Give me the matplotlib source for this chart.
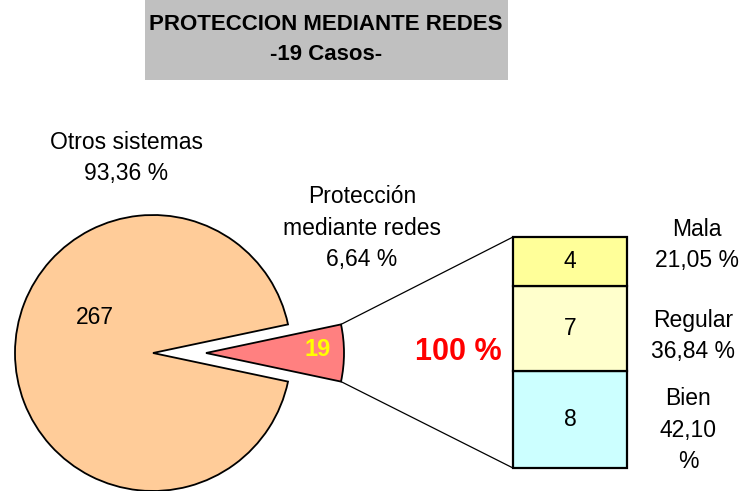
import matplotlib
matplotlib.use("Agg")
import matplotlib.pyplot as plt
import numpy as np
from matplotlib.patches import Rectangle

plt.rcParams['font.family'] = ['Liberation Sans', 'DejaVu Sans']

# ---- data ----
pie_labels = ["Protección\nmediante redes\n6,64 %", "Otros sistemas\n93,36 %"]
pie_values = [19, 267]
pie_colors = ["#FF8080", "#FFCC99"]

bar_categories = ["Bien", "Regular", "Mala"]
bar_values = [8, 7, 4]
bar_pct_labels = ["Bien\n42,10\n%", "Regular\n36,84 %", "Mala\n21,05 %"]
bar_colors = ["#CCFFFF", "#FFFFCC", "#FFFF99"]

title_lines = ["PROTECCION MEDIANTE REDES", "-19 Casos-"]

W, H = 747, 491
fig = plt.figure(figsize=(W / 100, H / 100), dpi=100)
ax = fig.add_axes([0, 0, 1, 1])

def py(y):
    return H - y

LFS = 16.5
LS = 1.45

# title box
ax.add_patch(Rectangle((145, py(80)), 363, 80, facecolor="#C0C0C0", edgecolor="none"))
ax.text(326, py(24), title_lines[0], ha='center', va='center', fontsize=16, fontweight='bold')
ax.text(326, py(54), title_lines[1], ha='center', va='center', fontsize=16, fontweight='bold')

# pie
R = 138
center = (153, py(353))
total = sum(pie_values)
small_angle = 360 * pie_values[0] / total
explode_px = 53
wedges, _ = ax.pie(pie_values, colors=pie_colors, radius=R, center=center,
                   startangle=-small_angle / 2, counterclock=True,
                   explode=[explode_px, 0],
                   wedgeprops=dict(edgecolor='black', linewidth=1.3),
                   frame=True)
ax.set_xlim(0, W)
ax.set_ylim(0, H)
ax.set_aspect('equal')
ax.axis('off')

ax.text(95, py(318), str(pie_values[1]), ha='center', va='center', fontsize=LFS)
ax.text(318, py(350), str(pie_values[0]), ha='center', va='center', fontsize=17,
        fontweight='bold', color='#FFFF00')
ax.text(126, py(158), pie_labels[1], ha='center', va='center', fontsize=LFS, linespacing=LS)
ax.text(362, py(228), pie_labels[0], ha='center', va='center', fontsize=LFS, linespacing=LS)

# bar
bx0, bx1 = 513, 627
by_top, by_bot = 237, 468
bax = fig.add_axes([bx0 / W, (H - by_bot) / H, (bx1 - bx0) / W, (by_bot - by_top) / H])
bax.set_xlim(0, 1)
bax.set_ylim(0, sum(bar_values))
bax.axis('off')
bottom = 0
for v, c in zip(bar_values, bar_colors):
    bax.bar(0.5, v, width=1.0, bottom=bottom, color=c, edgecolor='black', linewidth=1.6,
            clip_on=False)
    bax.text(0.5, bottom + v / 2, str(v), ha='center', va='center', fontsize=LFS)
    bottom += v

# bar labels on the right
label_y = {"Bien": 430, "Regular": 336, "Mala": 245}
label_x = {"Bien": 688, "Regular": 693, "Mala": 697}
for cat, lab in zip(bar_categories, bar_pct_labels):
    ax.text(label_x[cat], py(label_y[cat]), lab, ha='center', va='center', fontsize=LFS, linespacing=LS)

ax.text(458, py(352), "100 %", ha='center', va='center', fontsize=22, fontweight='bold', color='#FF0000')

# connector lines from small wedge arc to bar corners
cx = center[0] + explode_px
cy = center[1]
half = np.deg2rad(small_angle / 2)
p_top = (cx + R * np.cos(half), cy + R * np.sin(half))
p_bot = (cx + R * np.cos(half), cy - R * np.sin(half))
ax.plot([p_top[0], bx0], [p_top[1], py(by_top)], color='black', linewidth=0.9)
ax.plot([p_bot[0], bx0], [p_bot[1], py(by_bot)], color='black', linewidth=0.9)

fig.savefig("out.png", dpi=100)
